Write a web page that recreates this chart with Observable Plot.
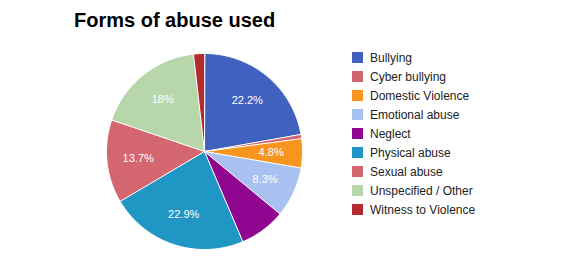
<!DOCTYPE html>
<html>
<head>
<meta charset="utf-8">
<script src="https://cdn.jsdelivr.net/npm/d3@7"></script>
<script src="https://cdn.jsdelivr.net/npm/@observablehq/plot@0.6"></script>
<style>
  html, body { margin: 0; padding: 0; background: #fff; }
  #wrap { position: relative; width: 584px; height: 258px; font-family: Arial, "Liberation Sans", sans-serif; }
  #title { position: absolute; left: 74px; top: 9px; font-size: 20px; font-weight: bold; color: #000; }
  #legend { position: absolute; left: 352px; top: 48px; }
  .item { height: 19px; display: flex; align-items: center; font-size: 12px; color: #222; }
  .sw { width: 11px; height: 11px; margin-right: 7px; }
  #chart { position: absolute; left: 0; top: 0; }
</style>
</head>
<body>
<div id="wrap">
  <div id="chart"></div>
  <div id="title">Forms of abuse used</div>
  <div id="legend"></div>
</div>
<script>
const categories = ["Bullying", "Cyber bullying", "Domestic Violence", "Emotional abuse", "Neglect", "Physical abuse", "Sexual abuse", "Unspecified / Other", "Witness to Violence"];
const values = [22.2, 0.7, 4.8, 8.3, 7.6, 22.9, 13.7, 18.0, 1.8];
const labels = ["22.2%", "", "4.8%", "8.3%", "", "22.9%", "13.7%", "18%", ""];
const colors = ["#4061c0", "#d0646f", "#f7951e", "#a9c1f0", "#900590", "#2096c4", "#d3666e", "#b7d7ab", "#b22c2f"];

const total = d3.sum(values);
const pts = [];
const labs = [];
let acc = 0;
categories.forEach((name, i) => {
  const a0 = acc / total, a1 = (acc + values[i]) / total;
  acc += values[i];
  pts.push({name, x: 0, y: 0});
  const n = Math.max(2, Math.ceil((a1 - a0) * 360));
  for (let k = 0; k <= n; k++) {
    const t = (a0 + (a1 - a0) * k / n) * 2 * Math.PI;
    pts.push({name, x: Math.sin(t), y: Math.cos(t)});
  }
  const tm = (a0 + a1) / 2 * 2 * Math.PI;
  if (labels[i]) labs.push({name, label: labels[i], x: 0.68 * Math.sin(tm), y: 0.68 * Math.cos(tm)});
});

const chart = Plot.plot({
  width: 584,
  height: 258,
  margin: 0,
  x: {domain: [-1, 1], range: [106, 302], axis: null},
  y: {domain: [-1, 1], range: [249, 53], axis: null},
  color: {domain: categories, range: colors},
  style: {background: "transparent", fontFamily: "Arial, 'Liberation Sans', sans-serif"},
  marks: [
    Plot.line(pts, {x: "x", y: "y", z: "name", fill: "name", stroke: "white", strokeWidth: 1, curve: "linear-closed"}),
    Plot.text(labs, {x: "x", y: "y", text: "label", fill: "white", fontSize: 11})
  ]
});
document.getElementById("chart").appendChild(chart);

const legend = document.getElementById("legend");
categories.forEach((name, i) => {
  const d = document.createElement("div");
  d.className = "item";
  d.innerHTML = `<div class="sw" style="background:${colors[i]}"></div><span>${name}</span>`;
  legend.appendChild(d);
});
</script>
</body>
</html>
